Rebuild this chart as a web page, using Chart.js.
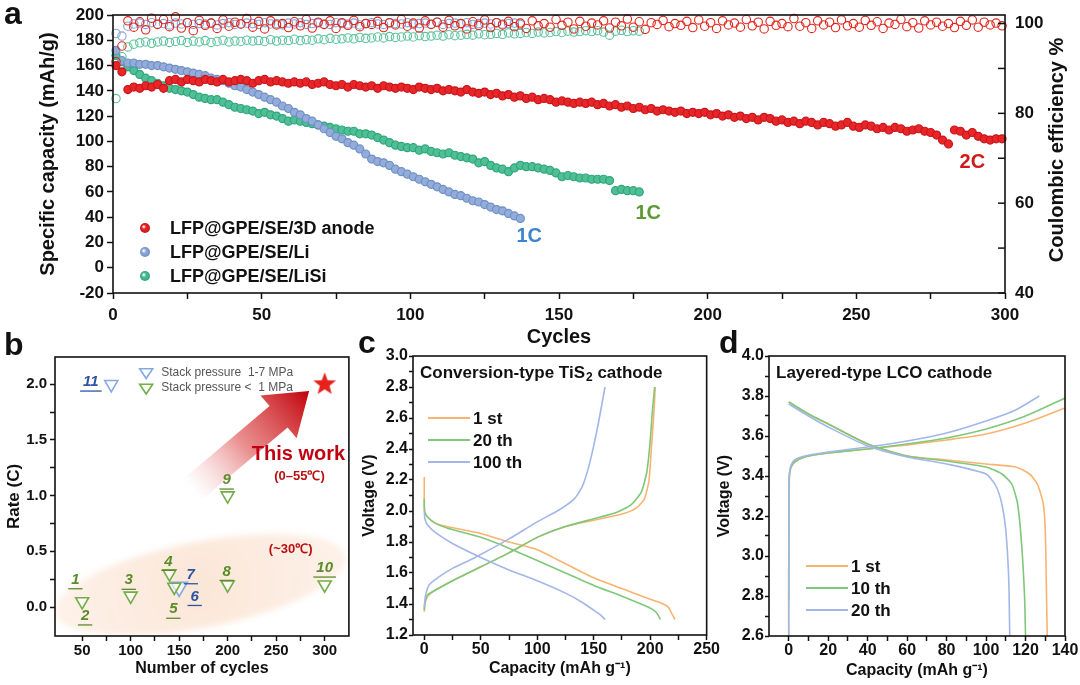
<!DOCTYPE html>
<html lang="en">
<head>
<meta charset="UTF-8">
<title>Cycling performance of LFP@GPE/SE cells</title>
<script src="https://cdn.jsdelivr.net/npm/chart.js"></script>
<style>
  body { margin: 0; background: #fff; font-family: "Liberation Sans", Arial, sans-serif; }
  #page { position: relative; width: 1080px; height: 685px; overflow: hidden; background: #fff; }
  canvas { position: absolute; }
  .tag { position: absolute; font-weight: bold; font-size: 32px; line-height: 32px; color: #111; }
</style>
</head>
<body>
<div id="page">
  <canvas id="chartA" width="1080" height="350" style="left:0;top:0"></canvas>
  <canvas id="chartB" width="360" height="345" style="left:0;top:340px"></canvas>
  <canvas id="chartC" width="360" height="345" style="left:360px;top:340px"></canvas>
  <canvas id="chartD" width="370" height="345" style="left:710px;top:340px"></canvas>
  <div class="tag" style="left:4px;top:-3px">a</div>
  <div class="tag" style="left:4px;top:328px">b</div>
  <div class="tag" style="left:358px;top:326px">c</div>
  <div class="tag" style="left:719px;top:326px">d</div>
</div>

<script>
const FONT = '"Liberation Sans", Arial, sans-serif';

// ---------- panel a: capacity (every 2nd cycle, starting at cycle 1) ----------
const capRed = [
  160, 155, 141, 143, 142, 144, 143, 145, 142, 148,
  149, 147, 149, 148, 147, 149, 148, 147, 149, 147,
  148, 149, 148, 146, 148, 149, 147, 148, 147, 146,
  147, 146, 147, 145, 146, 147, 145, 144, 145, 143,
  145, 144, 143, 144, 142, 144, 143, 142, 143, 142,
  141, 143, 142, 141, 142, 140, 141, 140, 139, 141,
  139, 138, 139, 137, 138, 136, 137, 135, 136, 134,
  135, 133, 134, 133, 131, 132, 131, 130, 131, 130,
  131, 129, 130, 128, 129, 127, 128, 126, 127, 125,
  126, 124, 125, 124, 123, 124, 122, 123, 122, 123,
  121, 122, 120, 121, 119, 120, 118, 119, 117, 119,
  118, 116, 117, 115, 116, 114, 116, 115, 113, 115,
  114, 112, 113, 115, 112, 111, 113, 112, 110, 111,
  109, 111, 110, 108, 109, 110, 108, 107, 105, 101,
  98, 109, 108, 105, 107, 104, 102, 101, 102, 102
];
const capBlue = [
  172, 164, 162, 162, 161, 161, 160, 160, 159, 158,
  157, 156, 155, 154, 153, 152, 150, 149, 148, 146,
  144, 143, 141, 139, 137, 135, 133, 131, 128, 126,
  123, 121, 118, 116, 113, 110, 107, 104, 102, 99,
  97, 94, 90, 86, 84, 83, 81, 78, 76, 74,
  72, 70, 68, 66, 64, 62, 60, 58, 57, 55,
  53, 52, 50, 48, 46, 45, 43, 41, 39
];
const capGreen = [
  168, 163, 159, 156, 153, 150, 148, 146, 144, 142,
  141, 140, 139, 137, 135, 134, 133, 133, 131, 129,
  127, 126, 125, 124, 122, 123, 121, 120, 118, 116,
  117, 116, 115, 114, 113, 112, 111, 110, 109, 108,
  108, 106, 106, 105, 103, 101, 99, 97, 96, 95,
  95, 93, 94, 92, 91, 90, 91, 89, 88, 87,
  86, 83, 84, 81, 79, 78, 76, 79, 81, 80,
  80, 79, 78, 77, 75, 72, 73, 72, 71, 71,
  70, 70, 70, 69, 61, 62, 61, 61, 60
];
// ---------- panel a: coulombic efficiency (%) ----------
const ceRed = [
  91.5, 95.0, 100.6, 99.2, 100.4, 98.6, 101.2, 99.8, 100.9, 99.3,
  101.5, 99.0, 100.2, 98.4, 100.7, 99.6, 100.1, 98.9, 100.8, 99.4,
  100.3, 99.9, 101.1, 99.2, 100.5, 98.8, 100.6, 99.7, 100.0, 99.1,
  100.4, 99.5, 100.9, 99.0, 100.3, 99.8, 100.6, 98.9, 100.2, 99.6,
  100.7, 99.3, 100.0, 99.8, 100.5, 99.1, 100.2, 99.7, 100.9, 99.4,
  100.1, 99.0, 100.6, 99.8, 100.3, 99.2, 100.7, 99.5, 100.0, 98.8,
  100.4, 99.6, 100.8, 99.1, 100.2, 99.7, 100.5, 99.3, 100.1, 98.9,
  100.6, 99.5, 100.0, 99.2, 100.9, 99.6, 100.3, 98.8, 100.5, 99.4,
  100.1, 99.7, 100.6, 99.0, 100.3, 99.5, 101.0, 99.2, 100.4, 98.7,
  100.2, 99.8, 100.7, 99.3, 100.0, 99.6, 100.5, 99.1, 100.8, 99.4,
  100.2, 98.9, 100.6, 99.7, 100.1, 99.2, 100.9, 99.5, 100.3, 98.8,
  100.5, 99.6, 100.0, 99.3, 101.1, 99.4, 100.2, 98.9, 100.6, 99.7,
  100.3, 99.1, 100.8, 99.5, 100.0, 99.2, 100.7, 99.6, 100.4, 98.9,
  100.1, 99.8, 100.9, 99.3, 100.2, 99.0, 100.6, 99.7, 100.3, 99.4,
  100.0, 99.1, 100.5, 99.6, 100.8, 99.2, 100.3, 99.7, 100.1, 99.5
];
const ceBlue = [
  97.8, 97.2, 99.4, 99.9, 100.1, 99.8, 100.2, 99.9, 100.0, 99.7,
  100.1, 99.9, 100.2, 99.8, 100.0, 99.9, 100.1, 99.7, 100.0, 100.2,
  99.8, 99.9, 100.1, 100.0, 99.8, 100.2, 99.9, 100.0, 99.7, 100.1,
  99.9, 100.2, 99.8, 100.0, 100.1, 99.9, 99.8, 100.2, 100.0, 99.9,
  100.1, 99.7, 100.0, 100.2, 99.9, 99.8, 100.1, 100.0, 99.9, 100.2,
  99.8, 100.0, 100.1, 99.9, 100.3, 99.8, 100.0, 100.1, 99.9, 100.2,
  99.8, 100.0, 100.1, 99.9, 100.2, 99.9, 100.0, 100.1, 99.8
];
const ceGreen = [
  83.3, 92.6, 94.8, 95.4, 95.7, 95.9, 95.6, 95.9, 96.1, 95.8,
  96.0, 96.2, 95.8, 96.1, 95.9, 96.2, 95.8, 96.0, 96.3, 95.9,
  96.1, 96.0, 96.3, 96.1, 96.2, 96.0, 96.4, 96.1, 96.3, 96.2,
  96.5, 96.2, 96.4, 96.3, 96.6, 96.4, 96.7, 96.5, 96.6, 96.8,
  96.6, 96.9, 96.7, 96.8, 97.0, 96.8, 97.1, 96.9, 97.0, 97.2,
  97.0, 97.3, 97.1, 97.2, 97.4, 97.2, 97.5, 97.3, 97.4, 97.6,
  97.4, 97.7, 97.5, 97.6, 97.8, 97.6, 97.9, 97.7, 97.8, 98.0,
  97.8, 98.1, 97.9, 98.0, 98.2, 98.0, 98.3, 98.1, 98.2, 98.4,
  98.2, 98.4, 98.1, 97.4, 98.3, 98.5, 98.2, 98.4, 98.3
];
const cycleStep = 2;
const aTicksX = [0, 50, 100, 150, 200, 250, 300];
const aTicksY = [-20, 0, 20, 40, 60, 80, 100, 120, 140, 160, 180, 200];
const aTicksCE = [40, 60, 80, 100];
const aNames = ['LFP@GPE/SE/3D anode', 'LFP@GPE/SE/Li', 'LFP@GPE/SE/LiSi'];
const rateText = ['1C', '1C', '2C'];
const rateX = [140, 180, 289];
const rateY = [25, 43, 83];
const rateColor = ['#3d84d0', '#5b9a35', '#d01818'];

// ---------- panel b: literature comparison ----------
const bGreenX = [50, 100, 140, 145, 200, 200, 300];
const bGreenY = [0.05, 0.1, 0.3, 0.18, 0.2, 1.0, 0.2];
const bBlueX = [80, 150];
const bBlueY = [2.0, 0.18];
const bStarX = [300];
const bStarY = [2.0];
const bLabels = ['1', '2', '3', '4', '5', '6', '7', '8', '9', '10', '11'];
const bLabelX = [43, 53, 98, 139, 144, 166, 162, 199, 199, 300, 59];
const bLabelY = [0.245, -0.08, 0.24, 0.41, -0.02, 0.095, 0.29, 0.32, 1.14, 0.35, 2.02];
const bLabelBlue = ['6', '7', '11'];
const bTicksX = [50, 100, 150, 200, 250, 300];
const bTicksY = [0, 0.5, 1.0, 1.5, 2.0];

// ---------- panel c: TiS2 voltage profiles ----------
const cChg1X = [0, 0.5, 3, 10, 25, 50, 75, 100, 125, 150, 175, 188, 195, 199, 201, 203, 204.5];
const cChg1Y = [1.35, 1.40, 1.45, 1.49, 1.55, 1.64, 1.73, 1.83, 1.90, 1.94, 1.98, 2.02, 2.08, 2.2, 2.4, 2.6, 2.8];
const cDis1X = [0, 0, 0.5, 3, 10, 20, 50, 75, 100, 125, 150, 175, 200, 210, 216, 219, 222];
const cDis1Y = [2.22, 2.05, 1.99, 1.96, 1.92, 1.9, 1.855, 1.8, 1.75, 1.66, 1.57, 1.5, 1.43, 1.405, 1.38, 1.34, 1.3];
const cChg20X = [0, 0.5, 3, 10, 25, 50, 75, 100, 125, 150, 170, 183, 192, 197, 200, 202, 204];
const cChg20Y = [1.36, 1.41, 1.46, 1.49, 1.55, 1.64, 1.73, 1.83, 1.90, 1.95, 1.99, 2.04, 2.12, 2.25, 2.45, 2.65, 2.8];
const cDis20X = [0, 0, 0.5, 3, 10, 20, 50, 75, 100, 125, 150, 175, 195, 203, 207, 209];
const cDis20Y = [2.08, 2.02, 1.99, 1.96, 1.92, 1.89, 1.83, 1.76, 1.68, 1.6, 1.52, 1.45, 1.39, 1.36, 1.33, 1.3];
const cChg100X = [0, 1, 4, 12, 25, 45, 75, 100, 120, 133, 140, 145, 150, 155, 160];
const cChg100Y = [1.38, 1.45, 1.52, 1.57, 1.63, 1.70, 1.82, 1.93, 2.01, 2.08, 2.16, 2.27, 2.42, 2.6, 2.8];
const cDis100X = [0, 0.5, 3, 10, 25, 50, 75, 100, 125, 140, 150, 156, 160];
const cDis100Y = [2.0, 1.95, 1.91, 1.86, 1.79, 1.70, 1.62, 1.55, 1.47, 1.41, 1.36, 1.33, 1.3];
const cNames = ['1 st', '20 th', '100 th'];
const cTicksX = [0, 50, 100, 150, 200, 250];
const cTicksY = [1.2, 1.4, 1.6, 1.8, 2.0, 2.2, 2.4, 2.6, 2.8, 3.0];

// ---------- panel d: LCO voltage profiles ----------
const dChg1X = [0, 0, 0.3, 1, 3, 8, 20, 40, 60, 80, 100, 120, 140];
const dChg1Y = [2.6, 3.0, 3.38, 3.44, 3.47, 3.495, 3.515, 3.535, 3.555, 3.58, 3.61, 3.665, 3.74];
const dDis1X = [0, 10, 20, 40, 60, 80, 100, 115, 122, 126, 129, 130, 130.5, 131];
const dDis1Y = [3.77, 3.71, 3.66, 3.56, 3.50, 3.48, 3.46, 3.445, 3.41, 3.36, 3.26, 3.13, 2.88, 2.6];
const dChg10X = [0, 0.2, 1, 3, 8, 20, 40, 60, 80, 100, 120, 140];
const dChg10Y = [2.78, 3.38, 3.44, 3.47, 3.495, 3.515, 3.535, 3.56, 3.59, 3.635, 3.70, 3.79];
const dDis10X = [0, 10, 20, 40, 60, 80, 100, 108, 113, 116, 118, 119.5, 120];
const dDis10Y = [3.77, 3.71, 3.66, 3.56, 3.50, 3.475, 3.445, 3.41, 3.36, 3.26, 3.06, 2.8, 2.6];
const dChg20X = [0, 0.2, 1, 3, 8, 20, 40, 60, 80, 100, 115, 127];
const dChg20Y = [2.6, 3.38, 3.45, 3.48, 3.50, 3.52, 3.545, 3.575, 3.615, 3.675, 3.73, 3.8];
const dDis20X = [0, 10, 20, 40, 60, 80, 100, 105, 108, 110, 111.5, 112];
const dDis20Y = [3.76, 3.70, 3.645, 3.55, 3.495, 3.46, 3.41, 3.35, 3.26, 3.13, 2.88, 2.6];
const dNames = ['1 st', '10 th', '20 th'];
const dTicksX = [0, 20, 40, 60, 80, 100, 120, 140];
const dTicksY = [2.6, 2.8, 3.0, 3.2, 3.4, 3.6, 3.8, 4.0];

const lineColors = ['#f8b46f', '#7fc77b', '#a2b7e8'];

// ---------- helpers ----------
function withMinor(majors) {
  const out = [];
  majors.forEach((v, i) => {
    out.push(v);
    if (i < majors.length - 1) out.push((v + majors[i + 1]) / 2);
  });
  return out;
}

function pts(xs, ys) {
  return ys.map((v, i) => ({ x: xs[i], y: v }));
}

function cyclePts(vals) {
  return vals.map((v, i) => ({ x: 1 + i * cycleStep, y: v }));
}

function makeAxis(o) {
  const majors = o.majors;
  return {
    type: 'linear',
    position: o.position,
    min: o.min,
    max: o.max,
    afterBuildTicks: s => { s.ticks = (o.minor ? withMinor(majors) : majors).map(v => ({ value: v })); },
    afterFit: s => { if (s.isHorizontal()) s.height = o.size; else s.width = o.size; },
    border: { display: false },
    grid: { drawOnChartArea: false, drawTicks: true, tickLength: o.tick || 6, tickWidth: 1.5, tickColor: o.tickColor || '#111' },
    ticks: {
      autoSkip: false, maxRotation: 0, color: '#111', padding: o.pad,
      font: { family: FONT, size: o.font, weight: 'bold' },
      callback: v => majors.includes(v) ? (o.fmt ? o.fmt(v) : String(v)) : ''
    },
    title: o.title ? {
      display: true, text: o.title, color: '#111',
      font: { family: FONT, size: o.titleSize, weight: 'bold' },
      padding: o.titlePad
    } : { display: false }
  };
}

const framePlugin = {
  id: 'frame',
  afterDatasetsDraw(chart) {
    const { ctx, chartArea: a } = chart;
    ctx.save();
    ctx.strokeStyle = '#111';
    ctx.lineWidth = 1.6;
    ctx.strokeRect(a.left, a.top, a.right - a.left, a.bottom - a.top);
    ctx.restore();
  }
};

const baseOptions = {
  responsive: false,
  animation: false,
  events: [],
  plugins: { legend: { display: false }, tooltip: { enabled: false } }
};

// ---------- chart a ----------
const aFill = ['#e8262a', '#93acd9', '#4fbf95'];
const aEdge = ['#c8161a', '#6f8fc6', '#2fa57b'];
const aRing = ['#e2231a', '#86a4d6', '#5cc29d'];

function capSet(vals, i) {
  return {
    data: cyclePts(vals), yAxisID: 'y', clip: false,
    pointRadius: 4, pointBorderWidth: 1.2,
    pointBackgroundColor: aFill[i], pointBorderColor: aEdge[i]
  };
}
function ceSet(vals, i) {
  return {
    data: cyclePts(vals), yAxisID: 'y2', clip: false,
    pointRadius: 4.2, pointBorderWidth: 1.1,
    pointBackgroundColor: 'rgba(255,255,255,0)', pointBorderColor: aRing[i]
  };
}

const annotA = {
  id: 'annotA',
  afterDraw(chart) {
    const { ctx, scales: { x, y, y2 }, chartArea: a } = chart;
    ctx.save();
    // right axis ticks point inward
    ctx.strokeStyle = '#111';
    ctx.lineWidth = 1.5;
    withMinor(aTicksCE).forEach(v => {
      const py = y2.getPixelForValue(v);
      ctx.beginPath();
      ctx.moveTo(a.right - 7, py);
      ctx.lineTo(a.right, py);
      ctx.stroke();
    });
    ctx.textAlign = 'center';
    ctx.textBaseline = 'middle';
    ctx.font = `bold 20px ${FONT}`;
    rateText.forEach((t, i) => {
      ctx.fillStyle = rateColor[i];
      ctx.fillText(t, x.getPixelForValue(rateX[i]), y.getPixelForValue(rateY[i]));
    });
    // legend
    ctx.textAlign = 'left';
    ctx.font = `bold 18px ${FONT}`;
    aNames.forEach((name, i) => {
      const py = a.top + 213 + i * 24;
      const px = a.left + 32;
      const g = ctx.createRadialGradient(px - 1.5, py - 1.5, 0.5, px, py, 5);
      g.addColorStop(0, '#ffffff');
      g.addColorStop(0.35, aFill[i]);
      g.addColorStop(1, aEdge[i]);
      ctx.fillStyle = g;
      ctx.beginPath();
      ctx.arc(px, py, 5, 0, Math.PI * 2);
      ctx.fill();
      ctx.fillStyle = '#111';
      ctx.fillText(name, a.left + 57, py + 1);
    });
    // right axis title (reads bottom to top)
    ctx.font = `bold 20px ${FONT}`;
    ctx.textAlign = 'center';
    ctx.translate(1057, (a.top + a.bottom) / 2 - 4);
    ctx.rotate(-Math.PI / 2);
    ctx.fillStyle = '#111';
    ctx.fillText('Coulombic efficiency %', 0, 0);
    ctx.restore();
  }
};

new Chart(document.getElementById('chartA'), {
  type: 'scatter',
  data: {
    datasets: [
      ceSet(ceRed, 0), ceSet(ceBlue, 1), ceSet(ceGreen, 2),
      capSet(capRed, 0), capSet(capBlue, 1), capSet(capGreen, 2)
    ]
  },
  options: {
    ...baseOptions,
    layout: { padding: { top: 15, left: 0, right: 0, bottom: 0 } },
    scales: {
      x: makeAxis({ position: 'bottom', min: 0, max: 300, majors: aTicksX, minor: true, size: 57, font: 17, pad: 6,
        title: 'Cycles', titleSize: 20, titlePad: { top: 0, bottom: 1 } }),
      y: makeAxis({ position: 'left', min: -20, max: 200, majors: aTicksY, size: 113, font: 17, pad: 3,
        title: 'Specific capacity (mAh/g)', titleSize: 20, titlePad: { top: 36, bottom: 0 } }),
      y2: makeAxis({ position: 'right', min: 40, max: 101.9, majors: aTicksCE, minor: true, size: 75, font: 17, pad: 4,
        tickColor: 'rgba(0,0,0,0)' })
    }
  },
  plugins: [framePlugin, annotA]
});

// ---------- chart b ----------
function starImage(r, color) {
  const c = document.createElement('canvas');
  c.width = c.height = 2 * r + 2;
  const g = c.getContext('2d');
  g.fillStyle = color;
  g.beginPath();
  for (let k = 0; k < 10; k++) {
    const rad = k % 2 ? r * 0.42 : r;
    const ang = -Math.PI / 2 + k * Math.PI / 5;
    g.lineTo(r + 1 + rad * Math.cos(ang), r + 1 + rad * Math.sin(ang));
  }
  g.closePath();
  g.fill();
  return c;
}

const bGreen = '#73ad4a';
const bBlue = '#84a9e0';

function drawTri(ctx, x, y, r, color) {
  ctx.save();
  ctx.strokeStyle = color;
  ctx.lineWidth = 1.6;
  ctx.beginPath();
  ctx.moveTo(x - r, y - r * 0.6);
  ctx.lineTo(x + r, y - r * 0.6);
  ctx.lineTo(x, y + r * 0.9);
  ctx.closePath();
  ctx.stroke();
  ctx.restore();
}

const decoB = {
  id: 'decoB',
  beforeDatasetsDraw(chart) {
    const { ctx, scales: { x, y }, chartArea: a } = chart;
    // shaded ellipse around the ~30 C group
    ctx.save();
    ctx.beginPath();
    ctx.rect(a.left, a.top, a.right - a.left, a.bottom - a.top);
    ctx.clip();
    ctx.filter = 'blur(3px)';
    ctx.translate(x.getPixelForValue(172), y.getPixelForValue(0.2));
    ctx.rotate(-11 * Math.PI / 180);
    const g = ctx.createRadialGradient(0, 0, 10, 0, 0, 150);
    g.addColorStop(0, 'rgba(251,230,214,0.95)');
    g.addColorStop(1, 'rgba(253,240,231,0.9)');
    ctx.fillStyle = g;
    ctx.beginPath();
    ctx.ellipse(0, 0, 148, 43, 0, 0, Math.PI * 2);
    ctx.fill();
    ctx.restore();

    // gradient arrow towards "this work"
    const x0 = x.getPixelForValue(163), y0 = y.getPixelForValue(1.05);
    const x1 = x.getPixelForValue(284), y1 = y.getPixelForValue(1.94);
    const ang = Math.atan2(y1 - y0, x1 - x0);
    const len = Math.hypot(x1 - x0, y1 - y0);
    ctx.save();
    ctx.translate(x0, y0);
    ctx.rotate(ang);
    const ag = ctx.createLinearGradient(0, 0, len, 0);
    ag.addColorStop(0, 'rgba(240,170,170,0)');
    ag.addColorStop(0.45, 'rgba(225,95,95,0.7)');
    ag.addColorStop(1, '#c00008');
    ctx.fillStyle = ag;
    const sw = 14, hw = 28, hl = 40;
    ctx.beginPath();
    ctx.moveTo(0, -sw);
    ctx.lineTo(len - hl, -sw);
    ctx.lineTo(len - hl, -hw);
    ctx.lineTo(len, 0);
    ctx.lineTo(len - hl, hw);
    ctx.lineTo(len - hl, sw);
    ctx.lineTo(0, sw);
    ctx.closePath();
    ctx.fill();
    ctx.restore();
  },
  afterDraw(chart) {
    const { ctx, scales: { x, y } } = chart;
    ctx.save();
    ctx.textAlign = 'center';
    ctx.textBaseline = 'middle';
    // reference numbers
    ctx.font = `italic bold 15px ${FONT}`;
    bLabels.forEach((t, i) => {
      const px = x.getPixelForValue(bLabelX[i]);
      const py = y.getPixelForValue(bLabelY[i]);
      const col = bLabelBlue.includes(t) ? '#2f54a5' : '#5b8c2a';
      ctx.fillStyle = col;
      ctx.fillText(t, px, py);
      const w = ctx.measureText(t).width + 6;
      ctx.strokeStyle = col;
      ctx.lineWidth = 1.3;
      ctx.beginPath();
      ctx.moveTo(px - w / 2, py + 9);
      ctx.lineTo(px + w / 2, py + 9);
      ctx.stroke();
    });
    // texts
    ctx.fillStyle = '#c00010';
    ctx.font = `bold 20px ${FONT}`;
    ctx.fillText('This work', x.getPixelForValue(273), y.getPixelForValue(1.374));
    ctx.fillStyle = '#b81010';
    ctx.font = `bold 13px ${FONT}`;
    ctx.fillText('(0–55℃)', x.getPixelForValue(274), y.getPixelForValue(1.17));
    ctx.fillText('(~30℃)', x.getPixelForValue(265), y.getPixelForValue(0.513));
    // legend
    ctx.textAlign = 'left';
    ctx.font = `12px ${FONT}`;
    ctx.fillStyle = '#555';
    const lx = x.getPixelForValue(116);
    drawTri(ctx, lx, y.getPixelForValue(2.104), 6.5, bBlue);
    drawTri(ctx, lx, y.getPixelForValue(1.965), 6.5, bGreen);
    ctx.fillText('Stack pressure  1-7 MPa', lx + 15, y.getPixelForValue(2.104));
    ctx.fillText('Stack pressure <  1 MPa', lx + 15, y.getPixelForValue(1.965));
    ctx.restore();
  }
};

new Chart(document.getElementById('chartB'), {
  type: 'scatter',
  data: {
    datasets: [
      { data: pts(bGreenX, bGreenY), pointStyle: 'triangle', rotation: 180, pointRadius: 7.5, pointBorderWidth: 1.6,
        pointBackgroundColor: 'rgba(255,255,255,0.6)', pointBorderColor: bGreen, clip: false },
      { data: pts(bBlueX, bBlueY), pointStyle: 'triangle', rotation: 180, pointRadius: [7.5, 9.5], pointBorderWidth: 1.6,
        pointBackgroundColor: 'rgba(255,255,255,0.6)', pointBorderColor: bBlue, clip: false },
      { data: pts(bStarX, bStarY), pointStyle: starImage(12, '#e8221b'), clip: false }
    ]
  },
  options: {
    ...baseOptions,
    layout: { padding: { top: 17, left: 0, right: 8, bottom: 0 } },
    scales: {
      x: makeAxis({ position: 'bottom', min: 22, max: 325, majors: bTicksX, minor: true, size: 49, font: 15, pad: 1, tick: 5,
        title: 'Number of cycles', titleSize: 16, titlePad: { top: 0, bottom: 7 } }),
      y: makeAxis({ position: 'left', min: -0.26, max: 2.245, majors: bTicksY, minor: true, size: 55, font: 15, pad: 3, tick: 5,
        fmt: v => v.toFixed(1),
        title: 'Rate (C)', titleSize: 17, titlePad: { top: 4, bottom: 0 } })
    }
  },
  plugins: [framePlugin, decoB]
});

// ---------- charts c and d ----------
function curve(xs, ys, color) {
  return { data: pts(xs, ys), showLine: true, borderColor: color, borderWidth: 1.6, pointRadius: 0, tension: 0.2, clip: false };
}

function insetPlugin(id, title, sub, rest, titleY, names, legX, legY) {
  return {
    id,
    afterDraw(chart) {
      const { ctx, chartArea: a } = chart;
      ctx.save();
      ctx.fillStyle = '#111';
      ctx.textBaseline = 'middle';
      ctx.textAlign = 'left';
      ctx.font = `bold 17px ${FONT}`;
      let px = a.left + 7;
      const py = a.top + titleY;
      ctx.fillText(title, px, py);
      px += ctx.measureText(title).width;
      if (sub) {
        ctx.font = `bold 12px ${FONT}`;
        ctx.fillText(sub, px + 1, py + 5);
        px += ctx.measureText(sub).width + 1;
        ctx.font = `bold 17px ${FONT}`;
      }
      ctx.fillText(rest, px, py);
      names.forEach((n, i) => {
        const ly = a.top + legY + i * 22;
        ctx.strokeStyle = lineColors[i];
        ctx.lineWidth = 1.8;
        ctx.beginPath();
        ctx.moveTo(a.left + legX, ly);
        ctx.lineTo(a.left + legX + 42, ly);
        ctx.stroke();
        ctx.fillText(n, a.left + legX + 45, ly + 1);
      });
      ctx.restore();
    }
  };
}

new Chart(document.getElementById('chartC'), {
  type: 'scatter',
  data: {
    datasets: [
      curve(cChg100X, cChg100Y, lineColors[2]), curve(cDis100X, cDis100Y, lineColors[2]),
      curve(cChg20X, cChg20Y, lineColors[1]), curve(cDis20X, cDis20Y, lineColors[1]),
      curve(cChg1X, cChg1Y, lineColors[0]), curve(cDis1X, cDis1Y, lineColors[0])
    ]
  },
  options: {
    ...baseOptions,
    layout: { padding: { top: 16, left: 0, right: 12, bottom: 0 } },
    scales: {
      x: makeAxis({ position: 'bottom', min: -10, max: 250, majors: cTicksX, minor: true, size: 50, font: 16, pad: 0, tick: 5,
        title: 'Capacity (mAh g⁻¹)', titleSize: 16, titlePad: { top: 0, bottom: 7 } }),
      y: makeAxis({ position: 'left', min: 1.2, max: 3.0, majors: cTicksY, minor: true, size: 53, font: 16, pad: 1, tick: 4,
        fmt: v => v.toFixed(1),
        title: 'Voltage (V)', titleSize: 16, titlePad: { top: 0, bottom: 0 } })
    }
  },
  plugins: [framePlugin, insetPlugin('insetC', 'Conversion-type TiS', '2', ' cathode', 17, cNames, 15, 62)]
});

new Chart(document.getElementById('chartD'), {
  type: 'scatter',
  data: {
    datasets: [
      curve(dChg20X, dChg20Y, lineColors[2]), curve(dDis20X, dDis20Y, lineColors[2]),
      curve(dChg10X, dChg10Y, lineColors[1]), curve(dDis10X, dDis10Y, lineColors[1]),
      curve(dChg1X, dChg1Y, lineColors[0]), curve(dDis1X, dDis1Y, lineColors[0])
    ]
  },
  options: {
    ...baseOptions,
    layout: { padding: { top: 16, left: 0, right: 15, bottom: 0 } },
    scales: {
      x: makeAxis({ position: 'bottom', min: -10, max: 140, majors: dTicksX, minor: true, size: 49, font: 16, pad: 0, tick: 5,
        title: 'Capacity (mAh g⁻¹)', titleSize: 16, titlePad: { top: 0, bottom: 5 } }),
      y: makeAxis({ position: 'left', min: 2.6, max: 4.0, majors: dTicksY, minor: true, size: 59, font: 16, pad: 1, tick: 4,
        fmt: v => v.toFixed(1),
        title: 'Voltage (V)', titleSize: 16, titlePad: { top: 5, bottom: 0 } })
    }
  },
  plugins: [framePlugin, insetPlugin('insetD', 'Layered-type LCO cathode', '', '', 17, dNames, 37, 210)]
});
</script>
</body>
</html>
